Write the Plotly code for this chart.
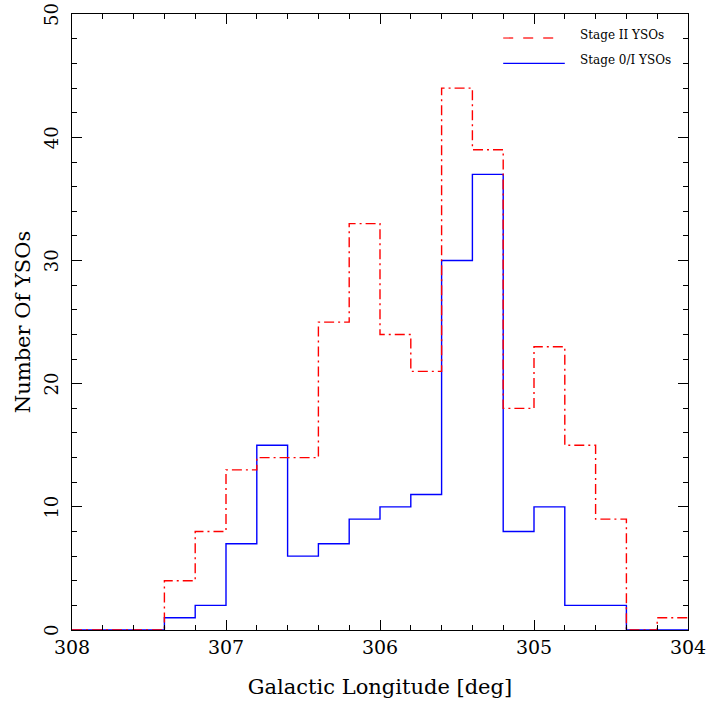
import plotly.graph_objects as go

# Galactic longitude bin edges (deg), 0.2 deg wide, running from 308 down to 304
bin_start = 308.0
bin_width = 0.2
n_bins = 20

# YSO counts per bin, ordered from l = 308 down to l = 304
stage2_counts = [0, 0, 0, 4, 8, 13, 14, 14, 25, 33, 24, 21, 44, 39, 18, 23, 15, 9, 0, 1]
stage01_counts = [0, 0, 0, 1, 2, 7, 15, 6, 7, 9, 10, 11, 30, 37, 8, 10, 2, 2, 0, 0]

x_ticks = [308, 307, 306, 305, 304]
y_ticks = [0, 10, 20, 30, 40, 50]

edges = [round(bin_start - i * bin_width, 3) for i in range(n_bins + 1)]

serif = "DejaVu Serif"

fig = go.Figure()

fig.add_trace(go.Scatter(
    x=edges, y=stage01_counts + [stage01_counts[-1]],
    mode="lines", line_shape="hv",
    line=dict(color="#0000ff", width=1.4),
    name="Stage 0/I YSOs", showlegend=False,
))
fig.add_trace(go.Scatter(
    x=edges, y=stage2_counts + [stage2_counts[-1]],
    mode="lines", line_shape="hv",
    line=dict(color="#ff0000", width=1.4, dash="10px,4px,2px,4px"),
    name="Stage II YSOs", showlegend=False,
))

# Legend drawn inside the frame, top right
legend_items = [
    ("Stage II YSOs", "#ff3030", "10px,10px", 0.784),
    ("Stage 0/I YSOs", "#0000ff", "solid", 0.800),
]
for i, (label, color, dash, x_end) in enumerate(legend_items):
    yp = 0.961 - i * 0.041
    fig.add_shape(type="line", xref="paper", yref="paper",
                  x0=0.700, x1=x_end, y0=yp, y1=yp,
                  line=dict(color=color, width=1.3, dash=dash))
    fig.add_annotation(xref="paper", yref="paper", x=0.822, y=yp + 0.005,
                       text=label, showarrow=False, xanchor="left", yanchor="middle",
                       font=dict(family=serif, size=12, color="black"))

axis_common = dict(
    showline=True, linecolor="black", linewidth=1.3,
    mirror="allticks", ticks="inside", ticklen=10, tickwidth=1.3, tickcolor="black",
    showgrid=False, zeroline=False, automargin=False,
)

fig.update_layout(
    width=708, height=704,
    margin=dict(l=72, r=20, t=14, b=74),
    paper_bgcolor="white", plot_bgcolor="white",
    xaxis=dict(
        range=[308, 304], tickvals=x_ticks, ticktext=[str(v) for v in x_ticks],
        tickfont=dict(family=serif, size=19, color="black"),
        minor=dict(dtick=0.2, ticks="inside", ticklen=5, tickwidth=1.1, tickcolor="black", showgrid=False),
        title=dict(text="Galactic Longitude [deg]", font=dict(family=serif, size=21, color="black"), standoff=22),
        **axis_common,
    ),
    yaxis=dict(
        range=[0, 50.02], tickvals=y_ticks, ticktext=[str(v) for v in y_ticks],
        tickfont=dict(family=serif, size=18, color="black"),
        tickangle=-90, ticklabelstandoff=6, ticklabeloverflow="allow", ticklabelshift=3,
        minor=dict(dtick=2, ticks="inside", ticklen=5, tickwidth=1.1, tickcolor="black", showgrid=False),
        title=dict(text="Number Of YSOs", font=dict(family=serif, size=21, color="black"), standoff=4),
        **axis_common,
    ),
)

fig.write_html("out.html")
